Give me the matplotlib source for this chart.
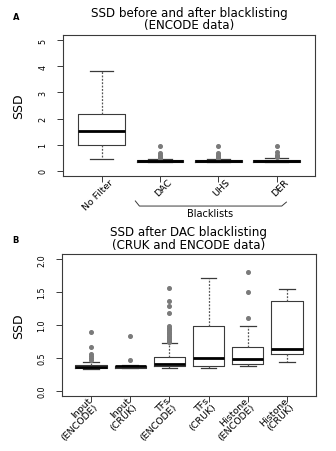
import matplotlib
matplotlib.use("Agg")
import matplotlib.pyplot as plt
import matplotlib.transforms as mtransforms

# Panel A: SSD before/after blacklisting (ENCODE)
a_labels = ["No Filter", "DAC", "UHS", "DER"]
a_whislo = [0.45, 0.32, 0.32, 0.32]
a_q1 = [0.98, 0.34, 0.34, 0.34]
a_med = [1.52, 0.37, 0.37, 0.38]
a_q3 = [2.18, 0.40, 0.40, 0.41]
a_whishi = [3.82, 0.44, 0.44, 0.49]
a_fliers = [[],
            [0.47, 0.50, 0.53, 0.57, 0.62, 0.69, 0.93],
            [0.47, 0.50, 0.53, 0.57, 0.62, 0.69, 0.93],
            [0.53, 0.57, 0.62, 0.70, 0.93]]
a_yticks = [0, 1, 2, 3, 4, 5]
a_title = "SSD before and after blacklisting\n(ENCODE data)"

# Panel B: SSD after DAC blacklisting (CRUK + ENCODE)
b_labels = ["Input\n(ENCODE)", "Input\n(CRUK)", "TFs\n(ENCODE)", "TFs\n(CRUK)",
            "Histone\n(ENCODE)", "Histone\n(CRUK)"]
b_whislo = [0.33, 0.35, 0.35, 0.34, 0.37, 0.43]
b_q1 = [0.34, 0.35, 0.38, 0.38, 0.41, 0.56]
b_med = [0.36, 0.37, 0.41, 0.50, 0.49, 0.63]
b_q3 = [0.39, 0.38, 0.52, 0.99, 0.66, 1.37]
b_whishi = [0.43, 0.39, 0.72, 1.71, 0.99, 1.55]
b_fliers = [[0.47, 0.50, 0.53, 0.56, 0.67, 0.90],
            [0.47, 0.83],
            [0.74, 0.76, 0.78, 0.80, 0.82, 0.84, 0.86, 0.88, 0.90, 0.92, 0.94,
             0.96, 0.98, 1.18, 1.29, 1.36, 1.57],
            [],
            [1.11, 1.51, 1.81],
            []]
b_yticks = [0.0, 0.5, 1.0, 1.5, 2.0]
b_title = "SSD after DAC blacklisting\n(CRUK and ENCODE data)"

edge = "#3a3a3a"


def make_stats(labels, wlo, q1, med, q3, whi, fl):
    out = []
    for i in range(len(labels)):
        out.append(dict(label=labels[i], whislo=wlo[i], q1=q1[i], med=med[i],
                        q3=q3[i], whishi=whi[i], fliers=fl[i]))
    return out


def draw_panel(ax, stats, yticks, ylim, title, dx, dy):
    n = len(stats)
    ax.bxp(stats, positions=range(1, n + 1), widths=0.8,
           boxprops=dict(color=edge, lw=0.8),
           medianprops=dict(color="black", lw=2.0),
           whiskerprops=dict(color="#555555", lw=0.9, linestyle=(0, (1.5, 1.2))),
           capprops=dict(color=edge, lw=0.9),
           capwidths=0.4,
           flierprops=dict(marker="o", markersize=2.6, markerfacecolor="#7a7a7a",
                           markeredgecolor="#7a7a7a", linestyle="none"))
    ext = 0.04 * n
    ax.set_xlim(0.5 - ext, n + 0.5 + ext)
    ax.set_ylim(*ylim)
    ax.set_yticks(yticks)
    ax.set_yticklabels([str(t) if isinstance(t, int) else "%.1f" % t for t in yticks],
                       rotation=90, va="center", fontsize=5.8)
    ax.tick_params(axis="y", length=4.3, width=0.7, color=edge, pad=7)
    ax.tick_params(axis="x", length=4.3, width=0.7, color=edge, pad=0)
    ax.set_xticks(range(1, n + 1))
    ax.set_xticklabels([s["label"] for s in stats], rotation=45, ha="right",
                       va="center", rotation_mode="anchor", fontsize=6.8,
                       linespacing=0.95)
    # R-style placement of the rotated labels
    off = mtransforms.ScaledTranslation(dx / 100.0, dy / 100.0, ax.figure.dpi_scale_trans)
    for lab in ax.get_xticklabels():
        lab.set_transform(lab.get_transform() + off)
    for sp in ax.spines.values():
        sp.set_linewidth(0.8)
        sp.set_color(edge)
    ax.text(0.5, 1.025, title, transform=ax.transAxes, ha="center", va="bottom",
            fontsize=8.6, linespacing=0.95)


fig = plt.figure(figsize=(3.36, 4.52), dpi=100)
axA = fig.add_axes([0.1875, 0.6084, 0.75, 0.312])
axB = fig.add_axes([0.1845, 0.1217, 0.756, 0.314])

draw_panel(axA, make_stats(a_labels, a_whislo, a_q1, a_med, a_q3, a_whishi, a_fliers),
           a_yticks, (-0.2, 5.2), a_title, 10.5, 1.5)
draw_panel(axB, make_stats(b_labels, b_whislo, b_q1, b_med, b_q3, b_whishi, b_fliers),
           b_yticks, (-0.08, 2.08), b_title, 2.5, 0.5)

# bracket under the blacklist categories
tr = mtransforms.blended_transform_factory(axA.transData, axA.transAxes)
axA.plot([1.58, 1.65, 4.09, 4.17], [-0.177, -0.213, -0.213, -0.185], transform=tr,
         color=edge, lw=0.7, clip_on=False)
axA.text(2.86, -0.228, "Blacklists", transform=tr, ha="center", va="top", fontsize=7)

fig.text(0.054, 0.764, "SSD", rotation=90, ha="center", va="center", fontsize=9)
fig.text(0.054, 0.279, "SSD", rotation=90, ha="center", va="center", fontsize=9)
fig.text(0.047, 0.962, "A", ha="center", va="center", fontsize=6, weight="bold")
fig.text(0.047, 0.467, "B", ha="center", va="center", fontsize=6, weight="bold")

fig.savefig("out.png", dpi=100)
